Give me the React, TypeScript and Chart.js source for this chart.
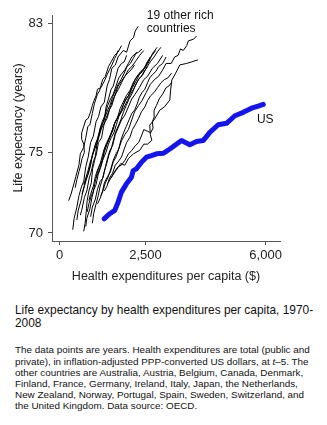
import React, { useEffect, useRef } from "react";
import { Chart, registerables } from "chart.js";

Chart.register(...registerables);

type Pt = [number, number];

// x: health expenditures per capita ($), y: life expectancy (years)
const usSeries: Pt[] = [
  [1293, 70.87], [1458, 71.19], [1604, 71.4], [1701, 71.9], [1799, 72.53], [1945, 73.04],
  [2091, 73.45], [2140, 73.86], [2237, 73.97], [2383, 74.38], [2528, 74.69], [2674, 74.79],
  [2820, 74.9], [3015, 74.93], [3209, 75.2], [3549, 75.72], [3792, 75.47], [3986, 75.67],
  [4181, 75.72], [4375, 76.23], [4618, 76.7], [4861, 76.79], [5104, 77.26], [5348, 77.47],
  [5590, 77.73], [5785, 77.86], [5931, 77.96],
];

const other01: Pt[] = [[260, 72.0], [330, 72.4], [420, 73.1], [470, 73.5], [560, 74.2], [600, 74.9], [700, 75.3], [760, 75.9], [820, 76.6], [880, 76.7], [950, 77.4], [1010, 78.0], [1100, 78.6], [1160, 78.8], [1250, 79.5], [1330, 79.7], [1420, 80.3], [1500, 80.6], [1600, 81.0], [1700, 81.2], [1800, 81.6]];
const other02: Pt[] = [[380, 70.2], [420, 70.9], [500, 71.6], [560, 72.3], [640, 72.9], [700, 73.2], [760, 74.1], [830, 74.7], [900, 75.6], [980, 76.0], [1060, 76.9], [1130, 77.2], [1200, 77.8], [1300, 78.1], [1380, 79.1], [1450, 79.5], [1520, 80.2], [1620, 80.4], [1700, 80.9], [1850, 81.3], [1950, 81.2], [2050, 81.9], [2150, 82.1], [2200, 82.5], [2285, 82.8]];
const other03: Pt[] = [[700, 70.1], [740, 70.6], [780, 71.5], [800, 72.0], [850, 72.6], [920, 73.1], [960, 74.0], [1020, 74.5], [1080, 75.4], [1120, 75.9], [1200, 76.6], [1300, 77.0], [1350, 77.8], [1420, 78.3], [1500, 78.9], [1560, 79.1], [1650, 79.8], [1700, 80.2], [1800, 80.5], [1880, 80.6], [1950, 81.0]];
const other04: Pt[] = [[600, 71.1], [640, 71.4], [720, 72.2], [790, 72.6], [860, 73.4], [920, 73.8], [990, 74.5], [1060, 74.8], [1130, 75.6], [1220, 75.9], [1280, 76.6], [1330, 77.0], [1440, 77.6], [1520, 77.9], [1620, 78.6], [1700, 79.1], [1800, 79.4], [1900, 79.7], [2000, 80.1], [2100, 80.3], [2200, 80.6], [2330, 81.0], [2450, 81.3]];
const other05: Pt[] = [[760, 70.4], [790, 70.9], [880, 71.5], [940, 72.2], [1000, 72.7], [1060, 73.0], [1120, 73.6], [1200, 74.1], [1260, 74.6], [1300, 75.2], [1400, 75.6], [1480, 76.0], [1560, 76.4], [1620, 76.9], [1720, 77.3], [1800, 77.6], [1900, 78.2], [2000, 78.5], [2100, 79.0], [2200, 79.5], [2300, 79.8], [2420, 80.0], [2550, 80.6], [2650, 80.9], [2800, 81.3]];
const other06: Pt[] = [[900, 71.0], [950, 71.6], [1040, 72.1], [1100, 72.7], [1180, 73.2], [1260, 73.4], [1320, 74.0], [1390, 74.6], [1460, 75.1], [1540, 75.4], [1620, 76.1], [1700, 76.5], [1800, 77.0], [1900, 77.3], [2000, 77.8], [2100, 78.3], [2200, 78.6], [2320, 79.0], [2450, 79.5], [2560, 79.7], [2700, 80.2], [2850, 80.5], [3000, 81.0]];
const other07: Pt[] = [[1100, 71.8], [1170, 72.1], [1250, 72.6], [1300, 73.1], [1400, 73.5], [1480, 73.8], [1560, 74.4], [1640, 74.7], [1720, 75.2], [1800, 75.7], [1900, 76.1], [2000, 76.4], [2100, 77.0], [2180, 77.5], [2300, 77.9], [2400, 78.2], [2520, 78.7], [2640, 79.2], [2760, 79.5], [2880, 79.7], [3000, 80.1], [3100, 80.5], [3250, 80.5], [3350, 80.9], [3450, 81.0], [3520, 81.4], [3600, 81.3], [3700, 81.6], [3750, 81.9], [3900, 82.0], [3990, 82.2]];
const other08: Pt[] = [[1400, 73.07], [1520, 73.5], [1650, 73.9], [1780, 74.3], [1896, 74.19], [2000, 74.6], [2150, 74.9], [2334, 75.12], [2450, 75.5], [2560, 75.5], [2684, 75.74], [2640, 76.1], [2625, 76.68], [2750, 77.0], [2917, 77.61], [3050, 77.8], [3209, 78.23], [3230, 78.8], [3267, 79.47], [3380, 79.9], [3501, 80.41], [3700, 80.5], [3850, 80.6], [4026, 80.72]];
const other09: Pt[] = [[1300, 72.6], [1380, 72.9], [1450, 73.4], [1540, 73.7], [1620, 74.2], [1700, 74.4], [1800, 74.7], [1880, 75.2], [1950, 75.6], [2040, 75.9], [2120, 76.4], [2200, 76.7], [2300, 77.1], [2380, 77.5], [2480, 77.8], [2560, 78.2], [2650, 78.5], [2750, 78.7], [2850, 79.0], [2950, 79.3], [3050, 79.5], [3150, 79.6], [3260, 79.9]];
const other10: Pt[] = [[1500, 73.4], [1600, 73.8], [1700, 74.1], [1800, 74.2], [1900, 74.5], [2000, 74.9], [2100, 75.1], [2200, 75.4], [2300, 75.6], [2380, 76.0], [2450, 76.4], [2560, 76.3], [2650, 76.2], [2720, 76.5], [2700, 76.9], [2760, 77.2], [2750, 77.6], [2820, 77.9], [2900, 78.3], [3000, 78.6], [3100, 79.0], [3180, 79.1], [3250, 79.3]];
const other11: Pt[] = [[500, 70.8], [540, 71.4], [620, 72.0], [680, 72.6], [760, 73.2], [820, 73.6], [900, 74.3], [960, 74.9], [1040, 75.5], [1100, 75.8], [1180, 76.5], [1240, 76.9], [1320, 77.3], [1400, 77.9], [1480, 78.3], [1560, 78.6], [1640, 79.1], [1720, 79.6], [1820, 79.9], [1900, 80.1], [2000, 80.5], [2100, 80.9], [2200, 81.1], [2300, 81.2], [2400, 81.4]];
const other12: Pt[] = [[800, 71.3], [850, 71.8], [920, 72.3], [980, 72.6], [1040, 73.2], [1090, 73.7], [1160, 74.2], [1240, 74.5], [1300, 75.0], [1380, 75.5], [1450, 75.9], [1520, 76.3], [1600, 76.8], [1680, 77.1], [1760, 77.7], [1850, 78.1], [1940, 78.5], [2040, 78.8], [2140, 79.3], [2250, 79.7], [2360, 80.0], [2480, 80.2], [2600, 80.6], [2700, 81.1], [2840, 81.5]];
const other13: Pt[] = [[650, 72.4], [700, 72.8], [780, 73.4], [840, 73.7], [900, 74.2], [950, 74.8], [1020, 75.2], [1080, 75.5], [1150, 76.0], [1220, 76.5], [1300, 76.8], [1380, 77.1], [1460, 77.7], [1540, 78.2], [1630, 78.6], [1710, 78.9], [1800, 79.3], [1890, 79.7], [1980, 79.9], [2080, 80.1], [2180, 80.4]];
const other14: Pt[] = [[1200, 72.3], [1260, 72.6], [1330, 73.1], [1400, 73.4], [1480, 73.9], [1560, 74.5], [1640, 74.9], [1720, 75.2], [1790, 75.8], [1860, 76.2], [1940, 76.6], [2020, 77.0], [2100, 77.4], [2180, 77.6], [2260, 78.0], [2320, 78.4], [2400, 78.7], [2480, 78.9], [2560, 79.3], [2620, 79.6], [2700, 79.8], [2800, 80.0], [2880, 80.3], [3000, 80.5], [3100, 80.9]];
const other15: Pt[] = [[450, 72.8], [500, 73.3], [560, 73.8], [600, 74.1], [650, 74.6], [720, 75.0], [700, 75.5], [640, 75.8], [640, 76.2], [700, 76.6], [760, 77.0], [830, 77.1], [900, 77.5], [950, 77.9], [1000, 78.2], [1060, 78.5], [1100, 78.9], [1200, 79.0], [1300, 79.4], [1380, 79.8], [1450, 80.1], [1520, 80.4], [1600, 80.8], [1650, 81.0], [1700, 81.3]];
const other16: Pt[] = [[950, 70.6], [990, 71.2], [1060, 71.8], [1120, 72.3], [1180, 72.9], [1240, 73.3], [1300, 73.8], [1370, 74.3], [1430, 74.8], [1500, 75.2], [1560, 75.7], [1620, 76.2], [1700, 76.6], [1780, 77.0], [1860, 77.5], [1940, 77.9], [2020, 78.3], [2100, 78.6], [2200, 79.1], [2290, 79.5], [2380, 79.7], [2460, 80.0], [2560, 80.3]];
const other17: Pt[] = [[700, 73.0], [760, 73.4], [830, 73.9], [890, 74.4], [960, 74.8], [1020, 75.3], [1080, 75.7], [1150, 76.1], [1220, 76.6], [1300, 77.1], [1380, 77.5], [1460, 77.9], [1540, 78.4], [1620, 78.8], [1700, 79.2], [1790, 79.5], [1880, 79.9], [1960, 80.3], [2060, 80.5], [2140, 80.8], [2240, 81.2]];
const other18: Pt[] = [[1050, 73.4], [1120, 73.7], [1200, 74.2], [1270, 74.6], [1350, 75.0], [1420, 75.5], [1500, 75.9], [1580, 76.2], [1650, 76.7], [1720, 77.2], [1800, 77.5], [1880, 77.8], [1970, 78.2], [2060, 78.6], [2150, 78.9], [2240, 79.3], [2330, 79.6], [2420, 79.8], [2520, 80.2], [2640, 80.6], [2750, 80.9], [2840, 81.2], [2950, 81.5]];
const other19: Pt[] = [[850, 72.0], [900, 72.4], [980, 72.9], [1040, 73.5], [1100, 73.9], [1170, 74.2], [1230, 74.7], [1300, 75.2], [1370, 75.6], [1440, 75.9], [1520, 76.3], [1600, 76.8], [1680, 77.1], [1760, 77.4], [1850, 77.9], [1940, 78.3], [2030, 78.6], [2120, 79.0], [2220, 79.4], [2320, 79.8], [2420, 80.1], [2520, 80.4], [2640, 80.9]];

const otherCountries: Pt[][] = [
  other01, other02, other03, other04, other05, other06, other07, other08, other09, other10,
  other11, other12, other13, other14, other15, other16, other17, other18, other19,
];

const xTicks = [0, 2500, 6000];
const yTicks = [70, 75, 83];
const xRange = [-225, 6420];
const yRange = [69.5, 83.5];

const FONT = '"Liberation Sans", Arial, Helvetica, sans-serif';

const labelsPlugin = {
  id: "labelsPlugin",
  afterDatasetsDraw(chart: any) {
    const { ctx, scales } = chart;
    const xs = scales.x;
    const ys = scales.y;
    ctx.save();
    ctx.fillStyle = "#111";
    ctx.font = `12px ${FONT}`;
    ctx.textBaseline = "middle";
    ctx.textAlign = "left";
    const lx = xs.getPixelForValue(2540);
    const ly = ys.getPixelForValue(83.45);
    ctx.fillText("19 other rich", lx, ly);
    ctx.fillText("countries", lx, ly + 13);
    ctx.fillText("US", xs.getPixelForValue(5747), ys.getPixelForValue(76.99));
    ctx.restore();
  },
};

export default function App() {
  const ref = useRef<HTMLCanvasElement | null>(null);

  useEffect(() => {
    if (!ref.current) return;
    const datasets: any[] = [
      {
        data: usSeries.map(([x, y]) => ({ x, y })),
        borderColor: "#1414f0",
        borderWidth: 5,
        borderJoinStyle: "round",
        borderCapStyle: "round",
        pointRadius: 0,
        tension: 0,
      },
      ...otherCountries.map((s) => ({
        data: s.map(([x, y]) => ({ x, y })),
        borderColor: "#000",
        borderWidth: 1,
        pointRadius: 0,
        tension: 0,
      })),
    ];
    const chart = new Chart(ref.current, {
      type: "line",
      data: { datasets },
      options: {
        responsive: false,
        animation: false,
        devicePixelRatio: 1,
        layout: { padding: { top: 15, right: 47, left: 0, bottom: 0 } },
        plugins: { legend: { display: false }, tooltip: { enabled: false } },
        scales: {
          x: {
            type: "linear",
            min: xRange[0],
            max: xRange[1],
            afterBuildTicks: (s: any) => {
              s.ticks = xTicks.map((v) => ({ value: v }));
            },
            afterFit: (s: any) => {
              s.height = 49;
            },
            ticks: {
              color: "#222",
              font: { family: FONT, size: 13 },
              padding: 3,
              maxRotation: 0,
              autoSkip: false,
              callback: (v: any) => Number(v).toLocaleString("en-US"),
            },
            grid: { drawOnChartArea: false, drawTicks: true, tickLength: 4, color: "#555" },
            border: { display: true, color: "#555", width: 1 },
            title: {
              display: true,
              text: "Health expenditures per capita ($)",
              color: "#222",
              font: { family: FONT, size: 12.5 },
              padding: { top: 0, bottom: 6 },
            },
          },
          y: {
            type: "linear",
            min: yRange[0],
            max: yRange[1],
            afterBuildTicks: (s: any) => {
              s.ticks = yTicks.map((v) => ({ value: v }));
            },
            afterFit: (s: any) => {
              s.width = 52;
            },
            ticks: {
              color: "#222",
              font: { family: FONT, size: 13 },
              padding: 5,
              autoSkip: false,
            },
            grid: { drawOnChartArea: false, drawTicks: true, tickLength: 4, color: "#555" },
            border: { display: true, color: "#555", width: 1 },
            title: {
              display: true,
              text: "Life expectancy (years)",
              color: "#222",
              font: { family: FONT, size: 12.5 },
              padding: { top: 11, bottom: 0 },
            },
          },
        },
      },
      plugins: [labelsPlugin],
    } as any);
    return () => chart.destroy();
  }, []);

  return (
    <div
      style={{
        position: "absolute",
        left: 0,
        top: 0,
        width: 327,
        height: 425,
        background: "#fff",
        fontFamily: FONT,
        color: "#111",
      }}
    >
      <canvas ref={ref} width={327} height={290} style={{ position: "absolute", left: 0, top: 0 }} />
      <div style={{ position: "absolute", left: 15, top: 304, width: 310 }}>
        <div style={{ fontSize: 11.9, lineHeight: "12.7px" }}>
          Life expectancy by health expenditures per capita, 1970-2008
        </div>
        <div style={{ fontSize: 9.9, lineHeight: "11.1px", marginTop: 15, width: 304 }}>
          The data points are years. Health expenditures are total (public and private), in
          inflation-adjusted PPP-converted US dollars, at <i>t</i>–5. The other countries are
          Australia, Austria, Belgium, Canada, Denmark, Finland, France, Germany, Ireland, Italy,
          Japan, the Netherlands, New Zealand, Norway, Portugal, Spain, Sweden, Switzerland, and
          the United Kingdom. Data source: OECD.
        </div>
      </div>
    </div>
  );
}
